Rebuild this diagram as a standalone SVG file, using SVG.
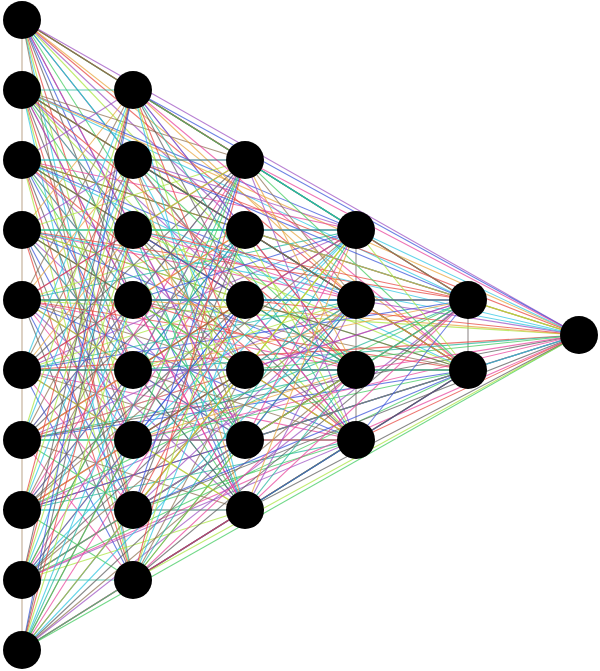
<svg xmlns="http://www.w3.org/2000/svg" width="600" height="671" viewBox="0 0 600 671">
<style>
#connectors path{fill:none;stroke-width:1.1;stroke-opacity:.72}
#connectors path:nth-child(11n+1){stroke:#e8a33a}
#connectors path:nth-child(11n+2){stroke:#9b4fc0}
#connectors path:nth-child(11n+3){stroke:#1fb59a}
#connectors path:nth-child(11n+4){stroke:#3cc95a}
#connectors path:nth-child(11n+5){stroke:#e8409a}
#connectors path:nth-child(11n+6){stroke:#3450d8}
#connectors path:nth-child(11n+7){stroke:#5a5a5a}
#connectors path:nth-child(11n+8){stroke:#e6413a}
#connectors path:nth-child(11n+9){stroke:#a8e43a}
#connectors path:nth-child(11n+10){stroke:#28c4e0}
#connectors path:nth-child(11n+11){stroke:#8c7050}
#connectors path.vb{stroke:#a88a6a}
#connectors path.vg{stroke:#6a6060}
.node circle{fill:#000}
</style>
<g id="connectors">
<path class="vb" d="M22 20 22 650"/><path class="vg" d="M356 230 356 440"/><path class="vg" d="M468 300 468 370"/>
<path d="M22 20 133 90"/><path d="M22 20 133 160"/><path d="M22 20 133 230"/><path d="M22 20 133 300"/><path d="M22 20 133 370"/><path d="M22 20 133 440"/><path d="M22 20 133 510"/><path d="M22 20 133 580"/><path d="M22 20 245 160"/><path d="M22 20 245 230"/><path d="M22 20 245 300"/><path d="M22 20 245 370"/><path d="M22 20 245 440"/><path d="M22 20 245 510"/><path d="M22 20 356 230"/><path d="M22 20 356 300"/><path d="M22 20 356 370"/><path d="M22 20 356 440"/><path d="M22 20 468 300"/><path d="M22 20 468 370"/><path d="M22 20 579 335"/>
<path d="M22 90 133 90"/><path d="M22 90 133 160"/><path d="M22 90 133 230"/><path d="M22 90 133 300"/><path d="M22 90 133 370"/><path d="M22 90 133 440"/><path d="M22 90 133 510"/><path d="M22 90 133 580"/><path d="M22 90 245 160"/><path d="M22 90 245 230"/><path d="M22 90 245 300"/><path d="M22 90 245 370"/><path d="M22 90 245 440"/><path d="M22 90 245 510"/><path d="M22 90 356 230"/><path d="M22 90 356 300"/><path d="M22 90 356 370"/><path d="M22 90 356 440"/><path d="M22 90 468 300"/><path d="M22 90 468 370"/><path d="M22 90 579 335"/>
<path d="M22 160 133 90"/><path d="M22 160 133 160"/><path d="M22 160 133 230"/><path d="M22 160 133 300"/><path d="M22 160 133 370"/><path d="M22 160 133 440"/><path d="M22 160 133 510"/><path d="M22 160 133 580"/><path d="M22 160 245 160"/><path d="M22 160 245 230"/><path d="M22 160 245 300"/><path d="M22 160 245 370"/><path d="M22 160 245 440"/><path d="M22 160 245 510"/><path d="M22 160 356 230"/><path d="M22 160 356 300"/><path d="M22 160 356 370"/><path d="M22 160 356 440"/><path d="M22 160 468 300"/><path d="M22 160 468 370"/><path d="M22 160 579 335"/>
<path d="M22 230 133 90"/><path d="M22 230 133 160"/><path d="M22 230 133 230"/><path d="M22 230 133 300"/><path d="M22 230 133 370"/><path d="M22 230 133 440"/><path d="M22 230 133 510"/><path d="M22 230 133 580"/><path d="M22 230 245 160"/><path d="M22 230 245 230"/><path d="M22 230 245 300"/><path d="M22 230 245 370"/><path d="M22 230 245 440"/><path d="M22 230 245 510"/><path d="M22 230 356 230"/><path d="M22 230 356 300"/><path d="M22 230 356 370"/><path d="M22 230 356 440"/><path d="M22 230 468 300"/><path d="M22 230 468 370"/><path d="M22 230 579 335"/>
<path d="M22 300 133 90"/><path d="M22 300 133 160"/><path d="M22 300 133 230"/><path d="M22 300 133 300"/><path d="M22 300 133 370"/><path d="M22 300 133 440"/><path d="M22 300 133 510"/><path d="M22 300 133 580"/><path d="M22 300 245 160"/><path d="M22 300 245 230"/><path d="M22 300 245 300"/><path d="M22 300 245 370"/><path d="M22 300 245 440"/><path d="M22 300 245 510"/><path d="M22 300 356 230"/><path d="M22 300 356 300"/><path d="M22 300 356 370"/><path d="M22 300 356 440"/><path d="M22 300 468 300"/><path d="M22 300 468 370"/><path d="M22 300 579 335"/>
<path d="M22 370 133 90"/><path d="M22 370 133 160"/><path d="M22 370 133 230"/><path d="M22 370 133 300"/><path d="M22 370 133 370"/><path d="M22 370 133 440"/><path d="M22 370 133 510"/><path d="M22 370 133 580"/><path d="M22 370 245 160"/><path d="M22 370 245 230"/><path d="M22 370 245 300"/><path d="M22 370 245 370"/><path d="M22 370 245 440"/><path d="M22 370 245 510"/><path d="M22 370 356 230"/><path d="M22 370 356 300"/><path d="M22 370 356 370"/><path d="M22 370 356 440"/><path d="M22 370 468 300"/><path d="M22 370 468 370"/><path d="M22 370 579 335"/>
<path d="M22 440 133 90"/><path d="M22 440 133 160"/><path d="M22 440 133 230"/><path d="M22 440 133 300"/><path d="M22 440 133 370"/><path d="M22 440 133 440"/><path d="M22 440 133 510"/><path d="M22 440 133 580"/><path d="M22 440 245 160"/><path d="M22 440 245 230"/><path d="M22 440 245 300"/><path d="M22 440 245 370"/><path d="M22 440 245 440"/><path d="M22 440 245 510"/><path d="M22 440 356 230"/><path d="M22 440 356 300"/><path d="M22 440 356 370"/><path d="M22 440 356 440"/><path d="M22 440 468 300"/><path d="M22 440 468 370"/><path d="M22 440 579 335"/>
<path d="M22 510 133 90"/><path d="M22 510 133 160"/><path d="M22 510 133 230"/><path d="M22 510 133 300"/><path d="M22 510 133 370"/><path d="M22 510 133 440"/><path d="M22 510 133 510"/><path d="M22 510 133 580"/><path d="M22 510 245 160"/><path d="M22 510 245 230"/><path d="M22 510 245 300"/><path d="M22 510 245 370"/><path d="M22 510 245 440"/><path d="M22 510 245 510"/><path d="M22 510 356 230"/><path d="M22 510 356 300"/><path d="M22 510 356 370"/><path d="M22 510 356 440"/><path d="M22 510 468 300"/><path d="M22 510 468 370"/><path d="M22 510 579 335"/>
<path d="M22 580 133 90"/><path d="M22 580 133 160"/><path d="M22 580 133 230"/><path d="M22 580 133 300"/><path d="M22 580 133 370"/><path d="M22 580 133 440"/><path d="M22 580 133 510"/><path d="M22 580 133 580"/><path d="M22 580 245 160"/><path d="M22 580 245 230"/><path d="M22 580 245 300"/><path d="M22 580 245 370"/><path d="M22 580 245 440"/><path d="M22 580 245 510"/><path d="M22 580 356 230"/><path d="M22 580 356 300"/><path d="M22 580 356 370"/><path d="M22 580 356 440"/><path d="M22 580 468 300"/><path d="M22 580 468 370"/><path d="M22 580 579 335"/>
<path d="M22 650 133 90"/><path d="M22 650 133 160"/><path d="M22 650 133 230"/><path d="M22 650 133 300"/><path d="M22 650 133 370"/><path d="M22 650 133 440"/><path d="M22 650 133 510"/><path d="M22 650 133 580"/><path d="M22 650 245 160"/><path d="M22 650 245 230"/><path d="M22 650 245 300"/><path d="M22 650 245 370"/><path d="M22 650 245 440"/><path d="M22 650 245 510"/><path d="M22 650 356 230"/><path d="M22 650 356 300"/><path d="M22 650 356 370"/><path d="M22 650 356 440"/><path d="M22 650 468 300"/><path d="M22 650 468 370"/><path d="M22 650 579 335"/>
<path d="M133 90 245 160"/><path d="M133 90 245 230"/><path d="M133 90 245 300"/><path d="M133 90 245 370"/><path d="M133 90 245 440"/><path d="M133 90 245 510"/><path d="M133 90 356 230"/><path d="M133 90 356 300"/><path d="M133 90 356 370"/><path d="M133 90 356 440"/><path d="M133 90 468 300"/><path d="M133 90 468 370"/><path d="M133 90 579 335"/>
<path d="M133 160 245 160"/><path d="M133 160 245 230"/><path d="M133 160 245 300"/><path d="M133 160 245 370"/><path d="M133 160 245 440"/><path d="M133 160 245 510"/><path d="M133 160 356 230"/><path d="M133 160 356 300"/><path d="M133 160 356 370"/><path d="M133 160 356 440"/><path d="M133 160 468 300"/><path d="M133 160 468 370"/><path d="M133 160 579 335"/>
<path d="M133 230 245 160"/><path d="M133 230 245 230"/><path d="M133 230 245 300"/><path d="M133 230 245 370"/><path d="M133 230 245 440"/><path d="M133 230 245 510"/><path d="M133 230 356 230"/><path d="M133 230 356 300"/><path d="M133 230 356 370"/><path d="M133 230 356 440"/><path d="M133 230 468 300"/><path d="M133 230 468 370"/><path d="M133 230 579 335"/>
<path d="M133 300 245 160"/><path d="M133 300 245 230"/><path d="M133 300 245 300"/><path d="M133 300 245 370"/><path d="M133 300 245 440"/><path d="M133 300 245 510"/><path d="M133 300 356 230"/><path d="M133 300 356 300"/><path d="M133 300 356 370"/><path d="M133 300 356 440"/><path d="M133 300 468 300"/><path d="M133 300 468 370"/><path d="M133 300 579 335"/>
<path d="M133 370 245 160"/><path d="M133 370 245 230"/><path d="M133 370 245 300"/><path d="M133 370 245 370"/><path d="M133 370 245 440"/><path d="M133 370 245 510"/><path d="M133 370 356 230"/><path d="M133 370 356 300"/><path d="M133 370 356 370"/><path d="M133 370 356 440"/><path d="M133 370 468 300"/><path d="M133 370 468 370"/><path d="M133 370 579 335"/>
<path d="M133 440 245 160"/><path d="M133 440 245 230"/><path d="M133 440 245 300"/><path d="M133 440 245 370"/><path d="M133 440 245 440"/><path d="M133 440 245 510"/><path d="M133 440 356 230"/><path d="M133 440 356 300"/><path d="M133 440 356 370"/><path d="M133 440 356 440"/><path d="M133 440 468 300"/><path d="M133 440 468 370"/><path d="M133 440 579 335"/>
<path d="M133 510 245 160"/><path d="M133 510 245 230"/><path d="M133 510 245 300"/><path d="M133 510 245 370"/><path d="M133 510 245 440"/><path d="M133 510 245 510"/><path d="M133 510 356 230"/><path d="M133 510 356 300"/><path d="M133 510 356 370"/><path d="M133 510 356 440"/><path d="M133 510 468 300"/><path d="M133 510 468 370"/><path d="M133 510 579 335"/>
<path d="M133 580 245 160"/><path d="M133 580 245 230"/><path d="M133 580 245 300"/><path d="M133 580 245 370"/><path d="M133 580 245 440"/><path d="M133 580 245 510"/><path d="M133 580 356 230"/><path d="M133 580 356 300"/><path d="M133 580 356 370"/><path d="M133 580 356 440"/><path d="M133 580 468 300"/><path d="M133 580 468 370"/><path d="M133 580 579 335"/>
<path d="M245 160 356 230"/><path d="M245 160 356 300"/><path d="M245 160 356 370"/><path d="M245 160 356 440"/><path d="M245 160 468 300"/><path d="M245 160 468 370"/><path d="M245 160 579 335"/>
<path d="M245 230 356 230"/><path d="M245 230 356 300"/><path d="M245 230 356 370"/><path d="M245 230 356 440"/><path d="M245 230 468 300"/><path d="M245 230 468 370"/><path d="M245 230 579 335"/>
<path d="M245 300 356 230"/><path d="M245 300 356 300"/><path d="M245 300 356 370"/><path d="M245 300 356 440"/><path d="M245 300 468 300"/><path d="M245 300 468 370"/><path d="M245 300 579 335"/>
<path d="M245 370 356 230"/><path d="M245 370 356 300"/><path d="M245 370 356 370"/><path d="M245 370 356 440"/><path d="M245 370 468 300"/><path d="M245 370 468 370"/><path d="M245 370 579 335"/>
<path d="M245 440 356 230"/><path d="M245 440 356 300"/><path d="M245 440 356 370"/><path d="M245 440 356 440"/><path d="M245 440 468 300"/><path d="M245 440 468 370"/><path d="M245 440 579 335"/>
<path d="M245 510 356 230"/><path d="M245 510 356 300"/><path d="M245 510 356 370"/><path d="M245 510 356 440"/><path d="M245 510 468 300"/><path d="M245 510 468 370"/><path d="M245 510 579 335"/>
<path d="M356 230 468 300"/><path d="M356 230 468 370"/><path d="M356 230 579 335"/>
<path d="M356 300 468 300"/><path d="M356 300 468 370"/><path d="M356 300 579 335"/>
<path d="M356 370 468 300"/><path d="M356 370 468 370"/><path d="M356 370 579 335"/>
<path d="M356 440 468 300"/><path d="M356 440 468 370"/><path d="M356 440 579 335"/>
<path d="M468 300 579 335"/><path d="M468 370 579 335"/>
</g>
<g id="n0" class="node"><circle cx="22" cy="20" r="19"/></g>
<g id="n1" class="node"><circle cx="22" cy="90" r="19"/></g>
<g id="n2" class="node"><circle cx="22" cy="160" r="19"/></g>
<g id="n3" class="node"><circle cx="22" cy="230" r="19"/></g>
<g id="n4" class="node"><circle cx="22" cy="300" r="19"/></g>
<g id="n5" class="node"><circle cx="22" cy="370" r="19"/></g>
<g id="n6" class="node"><circle cx="22" cy="440" r="19"/></g>
<g id="n7" class="node"><circle cx="22" cy="510" r="19"/></g>
<g id="n8" class="node"><circle cx="22" cy="580" r="19"/></g>
<g id="n9" class="node"><circle cx="22" cy="650" r="19"/></g>
<g id="n10" class="node"><circle cx="133" cy="90" r="19"/></g>
<g id="n11" class="node"><circle cx="133" cy="160" r="19"/></g>
<g id="n12" class="node"><circle cx="133" cy="230" r="19"/></g>
<g id="n13" class="node"><circle cx="133" cy="300" r="19"/></g>
<g id="n14" class="node"><circle cx="133" cy="370" r="19"/></g>
<g id="n15" class="node"><circle cx="133" cy="440" r="19"/></g>
<g id="n16" class="node"><circle cx="133" cy="510" r="19"/></g>
<g id="n17" class="node"><circle cx="133" cy="580" r="19"/></g>
<g id="n18" class="node"><circle cx="245" cy="160" r="19"/></g>
<g id="n19" class="node"><circle cx="245" cy="230" r="19"/></g>
<g id="n20" class="node"><circle cx="245" cy="300" r="19"/></g>
<g id="n21" class="node"><circle cx="245" cy="370" r="19"/></g>
<g id="n22" class="node"><circle cx="245" cy="440" r="19"/></g>
<g id="n23" class="node"><circle cx="245" cy="510" r="19"/></g>
<g id="n24" class="node"><circle cx="356" cy="230" r="19"/></g>
<g id="n25" class="node"><circle cx="356" cy="300" r="19"/></g>
<g id="n26" class="node"><circle cx="356" cy="370" r="19"/></g>
<g id="n27" class="node"><circle cx="356" cy="440" r="19"/></g>
<g id="n28" class="node"><circle cx="468" cy="300" r="19"/></g>
<g id="n29" class="node"><circle cx="468" cy="370" r="19"/></g>
<g id="n30" class="node"><circle cx="579" cy="335" r="19"/></g>
</svg>
